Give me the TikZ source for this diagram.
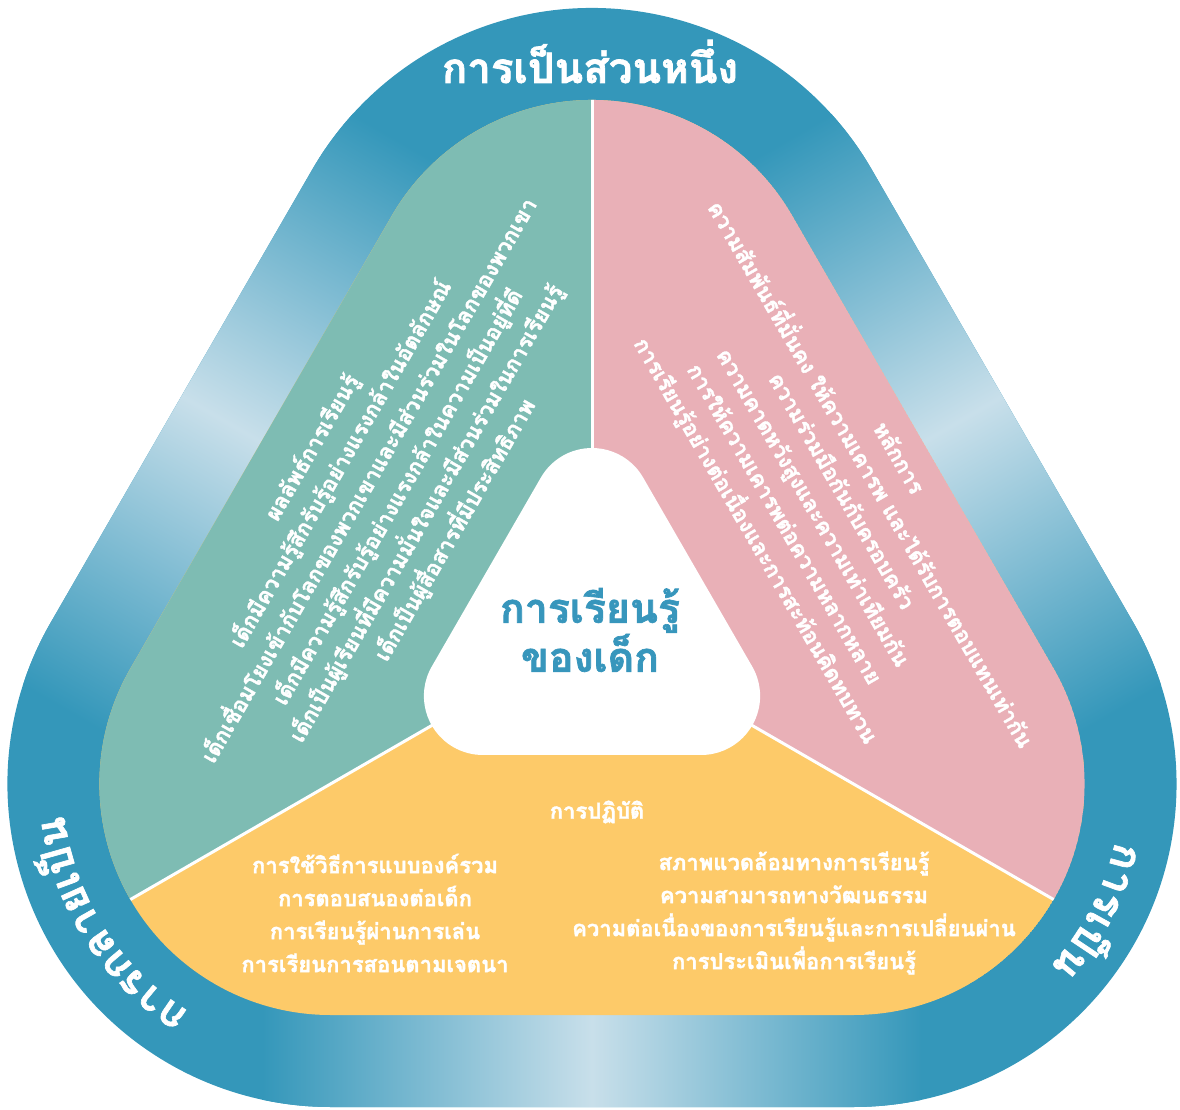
\documentclass[tikz,border=0pt]{standalone}
\usepackage{fontspec}
\newfontfamily\thaifont[Script=Thai,BoldFeatures={FakeBold=1.6}]{Loma}
\usetikzlibrary{calc,decorations.text}

\definecolor{ringblue}{HTML}{3497BA}
\definecolor{ringlight}{HTML}{C8DFEA}
\definecolor{leafgreen}{HTML}{7EBCB3}
\definecolor{leafpink}{HTML}{E9B0B7}
\definecolor{leafyellow}{HTML}{FDCA69}
\definecolor{hubblue}{HTML}{3796BC}

\newcommand{\ringfont}{\thaifont\bfseries\fontsize{42}{42}\selectfont}
\newcommand{\roundtri}[2]{($(C)+(90:#1)+(30:#2)$) arc[start angle=30,end angle=150,radius=#2]
  -- ($(C)+(210:#1)+(150:#2)$) arc[start angle=150,end angle=270,radius=#2]
  -- ($(C)+(330:#1)+(270:#2)$) arc[start angle=270,end angle=390,radius=#2] -- cycle}

\tikzset{
  leaftext/.style={text=white,align=center,font=\thaifont\bfseries\fontsize{22}{33}\selectfont},
  hubtext/.style={text=hubblue,align=center,font=\thaifont\bfseries\fontsize{41}{46}\selectfont},
  ringtext/.style={text=white,font=\ringfont},
  divider/.style={white,line width=3pt}
}

\begin{document}
\begin{tikzpicture}[x=1pt,y=1pt]
    \useasboundingbox (0,0) rectangle (1180,1109);
    \coordinate (C) at (592,476);
    \fill[ringblue] \roundtri{302}{323};
    \begin{scope}
      \clip \roundtri{302}{323};
      \foreach \a in {0,120,240}{
        \begin{scope}[transform canvas={rotate around={\a:(C)}}]
          \shade[left color=ringblue,right color=ringblue,middle color=ringlight] (262,0) rectangle (922,140);
        \end{scope}
      }
    \end{scope}
    \begin{scope}
      \clip \roundtri{302}{231};
      \fill[leafyellow] \roundtri{302}{231};
      \fill[leafgreen] (C) -- ($(C)+(90:900)$) -- ($(C)+(150:900)$) -- ($(C)+(210:900)$) -- cycle;
      \fill[leafpink] (C) -- ($(C)+(90:900)$) -- ($(C)+(30:900)$) -- ($(C)+(330:900)$) -- cycle;
      \draw[divider] (C) -- ($(C)+(90:600)$);
      \draw[divider] (C) -- ($(C)+(210:600)$);
      \draw[divider] (C) -- ($(C)+(330:600)$);
    \end{scope}
    \fill[white] \roundtri{126}{59};

    \node[ringtext,anchor=base] (belonging) at (590,1026) {การเป็นส่วนหนึ่ง};
    \path[decorate,decoration={text along path,text align=center,text={|\ringfont\color{white}|การกลายเ{ป็}น}}]
      ($(C)+(210:302)+(255:268)$) arc[start angle=255,end angle=170,radius=268];
    \path[decorate,decoration={text along path,text align=center,text={|\ringfont\color{white}|การเ{ป็}น}}]
      ($(C)+(330:302)+(20:268)$) arc[start angle=20,end angle=-75,radius=268];

    \node[hubtext] (hub) at (590,479) {การเรียนรู้\\ของเด็ก};

    \node[leaftext,rotate=60] (outcomes) at (384,620) {ผลลัพธ์การเรียนรู้\\
      เด็กมีความรู้สึกรับรู้อย่างแรงกล้าในอัตลักษณ์\\
      เด็กเชื่อมโยงเข้ากับโลกของพวกเขาและมีส่วนร่วมในโลกของพวกเขา\\
      เด็กมีความรู้สึกรับรู้อย่างแรงกล้าในความเป็นอยู่ที่ดี\\
      เด็กเป็นผู้เรียนที่มีความมั่นใจและมีส่วนร่วมในการเรียนรู้\\
      เด็กเป็นผู้สื่อสารที่มีประสิทธิภาพ};
    \node[leaftext,rotate=-60] (principles) at (826,609) {หลักการ\\
      ความสัมพันธ์ที่มั่นคง ให้ความเคารพ และได้รับการตอบแทนเท่ากัน\\
      ความร่วมมือกันกับครอบครัว\\
      ความคาดหวังสูงและความเท่าเทียมกัน\\
      การให้ความเคารพต่อความหลากหลาย\\
      การเรียนรู้อย่างต่อเนื่องและการสะท้อนคิดทบทวน};
    \node[leaftext] (practice) at (597,297) {การปฏิบัติ};
    \node[leaftext] (practiceL) at (375,196) {การใช้วิธีการแบบองค์รวม\\
      การตอบสนองต่อเด็ก\\
      การเรียนรู้ผ่านการเล่น\\
      การเรียนการสอนตามเจตนา};
    \node[leaftext] (practiceR) at (794,196) {สภาพแวดล้อมทางการเรียนรู้\\
      ความสามารถทางวัฒนธรรม\\
      ความต่อเนื่องของการเรียนรู้และการเปลี่ยนผ่าน\\
      การประเมินเพื่อการเรียนรู้};
\end{tikzpicture}
\end{document}
